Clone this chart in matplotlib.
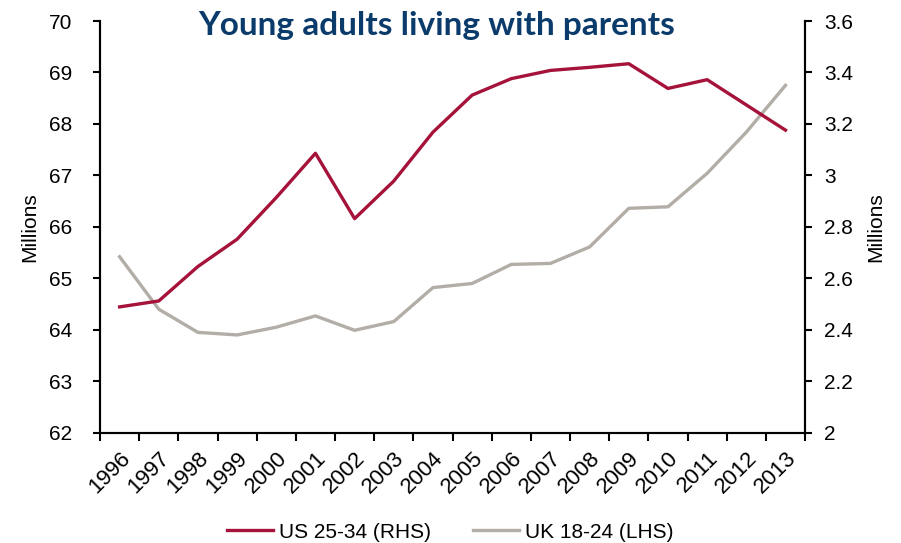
import numpy as np
import matplotlib.pyplot as plt
from matplotlib.ticker import FixedLocator, NullFormatter, FixedFormatter

plt.rcParams['font.family'] = ['Liberation Sans', 'DejaVu Sans']

years = [str(y) for y in range(1996, 2014)]
# US 25-34, right axis (millions)
us_2534 = [2.489, 2.512, 2.646, 2.752, 2.914, 3.086, 2.832, 2.978, 3.168, 3.312,
           3.376, 3.408, 3.420, 3.434, 3.338, 3.372, 3.274, 3.176]
# UK 18-24, left axis (millions)
uk_1824 = [65.42, 64.40, 63.95, 63.90, 64.05, 64.27, 63.99, 64.16, 64.82, 64.90,
           65.27, 65.29, 65.61, 66.36, 66.39, 67.04, 67.84, 68.75]

red = '#A5123A'
grey = '#B3ADA7'

fig = plt.figure(figsize=(9.01, 5.43), dpi=100)
ax = fig.add_axes([0.111, 0.2031, 0.7825, 0.7582])
ax2 = ax.twinx()

x = np.arange(len(years))
l2, = ax.plot(x, uk_1824, color=grey, lw=2.4, label='UK 18-24 (LHS)')
l1, = ax2.plot(x, us_2534, color=red, lw=2.4, label='US 25-34 (RHS)')

ax.set_xlim(-0.5, len(years) - 0.5)
ax.set_ylim(62, 70)
ax2.set_ylim(2, 3.6)
ax.set_yticks(range(62, 71))
ax2.set_yticks([2, 2.2, 2.4, 2.6, 2.8, 3, 3.2, 3.4, 3.6])
ax2.set_yticklabels(['2', '2.2', '2.4', '2.6', '2.8', '3', '3.2', '3.4', '3.6'])

# ticks at category boundaries, labels at centres
ax.xaxis.set_major_locator(FixedLocator(np.arange(-0.5, len(years), 1.0)))
ax.xaxis.set_major_formatter(NullFormatter())
ax.xaxis.set_minor_locator(FixedLocator(x))
ax.xaxis.set_minor_formatter(FixedFormatter(years))
ax.tick_params(axis='x', which='minor', length=0, labelsize=16, pad=11)
for lab in ax.get_xminorticklabels():
    lab.set_rotation(45)
    lab.set_ha('right')
    lab.set_rotation_mode('anchor')
ax.tick_params(axis='x', which='major', length=6, width=1.5, direction='out')
ax.tick_params(axis='y', length=5, width=1.5, labelsize=15, pad=15)
ax2.tick_params(axis='y', length=5, width=1.5, labelsize=15, pad=9)

for a in (ax, ax2):
    a.spines['top'].set_visible(False)
    for s in ('left', 'right', 'bottom'):
        a.spines[s].set_linewidth(1.5)

ax.set_ylabel('Millions', fontsize=15, labelpad=7)
ax2.set_ylabel('Millions', fontsize=15, labelpad=9)

ax.set_title('Young adults living with parents', fontsize=24, color='#0B3B6B',
             family=['Lato', 'DejaVu Sans'], fontweight='bold',
             x=0.478, y=0.965, pad=0)

fig.legend([l1, l2], ['US 25-34 (RHS)', 'UK 18-24 (LHS)'], loc='center',
           bbox_to_anchor=(0.5, 0.02), ncol=2, frameon=False, fontsize=15,
           handlelength=2.2, columnspacing=2.0, handletextpad=0.3)

fig.savefig('out.png', dpi=100)
